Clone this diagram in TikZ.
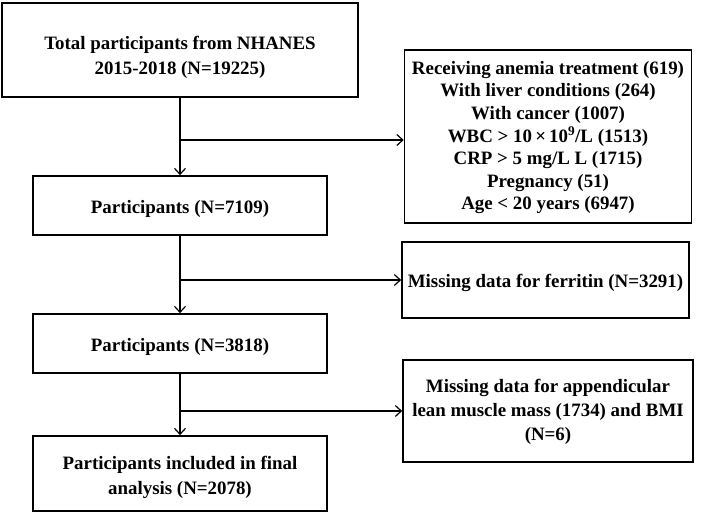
\documentclass[tikz,border=0pt]{standalone}
\usepackage{fontspec}
\setmainfont{Liberation Serif}
\usetikzlibrary{arrows.meta}
\begin{document}
\begin{tikzpicture}[x=1pt,y=-1pt,
  box/.style={draw,line width=1.6pt,inner sep=0pt},
  txt/.style={align=center,inner sep=0pt,font=\fontsize{18.9}{#1}\selectfont\bfseries},
  txt/.default=25,
  conn/.style={line width=1.2pt},
  arr/.style={conn,-{Straight Barb[length=6pt,width=11pt]}}]
\useasboundingbox (0,0) rectangle (702,513);
% left column boxes
\node[box,minimum width=356pt,minimum height=94pt] (b1) at (180,50) {};
\node[txt] (b1t) at (180,57.7) {Total participants from NHANES\\2015-2018 (N=19225)};
\node[box,minimum width=294pt,minimum height=59pt] (b2) at (180,205.5) {};
\node[txt] (b2t) at (180,208.5) {Participants (N=7109)};
\node[box,minimum width=294pt,minimum height=59pt] (b3) at (180,343.5) {};
\node[txt] (b3t) at (180,347) {Participants (N=3818)};
\node[box,minimum width=294pt,minimum height=75pt] (b4) at (180,473.5) {};
\node[txt] (b4t) at (180,477.7) {Participants included in final\\analysis (N=2078)};
% right column boxes
\node[box,minimum width=287pt,minimum height=173pt] (r1) at (548,136.5) {};
\node[txt=22.6] (r1t) at (548,137.7)
  {Receiving anemia treatment (619)\\With liver conditions (264)\\With cancer (1007)\\WBC > 10\,×\,10\textsuperscript{9}/L (1513)\\CRP > 5 mg/L L (1715)\\Pregnancy (51)\\Age < 20 years (6947)};
\node[box,minimum width=287pt,minimum height=76pt] (r2) at (545.5,280) {};
\node[txt] (r2t) at (545.5,283) {Missing data for ferritin (N=3291)};
\node[box,minimum width=290pt,minimum height=102pt] (r3) at (548,411) {};
\node[txt=24] (r3t) at (548,412.2)
  {Missing data for appendicular\\lean muscle mass (1734) and BMI\\(N=6)};
% connectors
\coordinate (j1) at (180,140);
\coordinate (j2) at (180,280);
\coordinate (j3) at (180,411);
\draw[arr] (b1.south) -- (b2.north);
\draw[arr] (b2.south) -- (b3.north);
\draw[arr] (b3.south) -- (b4.north);
\draw[arr] (j1) -- (j1 -| r1.west);
\draw[arr] (j2) -- (j2 -| r2.west);
\draw[arr] (j3) -- (j3 -| r3.west);
\end{tikzpicture}
\end{document}
